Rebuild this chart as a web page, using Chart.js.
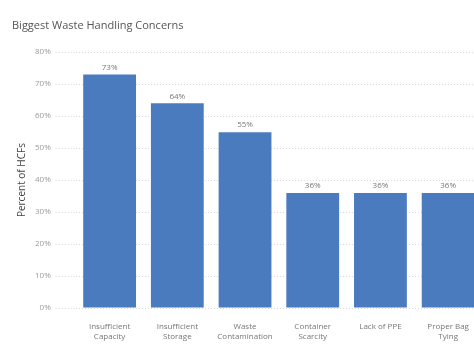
<!DOCTYPE html>
<html>
<head>
<meta charset="utf-8">
<script src="https://cdn.jsdelivr.net/npm/chart.js@4"></script>
<style>
  html, body { margin: 0; padding: 0; background: #fff; overflow: hidden; }
  #wrap { width: 482px; height: 362px; }
</style>
</head>
<body>
<div id="wrap"><canvas id="concernChart"></canvas></div>
<script>
const concerns = [
    ['Insufficient', 'Capacity'],
    ['Insufficient', 'Storage'],
    ['Waste', 'Contamination'],
    ['Container', 'Scarcity'],
    'Lack of PPE',
    ['Proper Bag', 'Tying']
];
const percentHCFs = [73, 64, 55, 36, 36, 36];
const yTicks = [0, 10, 20, 30, 40, 50, 60, 70, 80];

// draw the value above each bar
const barValueLabels = {
    id: 'barValueLabels',
    afterDatasetsDraw(chart) {
        const ctx = chart.ctx;
        const meta = chart.getDatasetMeta(0);
        ctx.save();
        ctx.font = '8px "Open Sans", sans-serif';
        ctx.fillStyle = '#777';
        ctx.textAlign = 'center';
        ctx.textBaseline = 'bottom';
        meta.data.forEach((bar, i) => {
            ctx.fillText(percentHCFs[i] + '%', bar.x, bar.y - 3);
        });
        ctx.restore();
    }
};

const ctx = document.getElementById('concernChart').getContext('2d');
new Chart(ctx, {
    type: 'bar',
    data: {
        labels: concerns,
        datasets: [{
            label: 'Percent of HCFs',
            data: percentHCFs,
            backgroundColor: '#4a7bbf',
            barPercentage: 0.78,
            categoryPercentage: 1
        }]
    },
    options: {
        responsive: true,
        maintainAspectRatio: false,
        animation: false,
        layout: { padding: { left: 12, right: 0, top: 0, bottom: 0 } },
        plugins: {
            legend: { display: false },
            tooltip: { enabled: false },
            title: {
                display: true,
                text: 'Biggest Waste Handling Concerns',
                align: 'start',
                color: '#555',
                font: { family: '"Open Sans", sans-serif', size: 11, weight: 'normal' },
                padding: { top: 19, bottom: 20 }
            }
        },
        scales: {
            x: {
                grid: { display: false },
                border: { display: false },
                ticks: {
                    color: '#777',
                    font: { family: '"Open Sans", sans-serif', size: 8 },
                    maxRotation: 0,
                    autoSkip: false,
                    padding: 6
                },
                title: {
                    display: true,
                    text: 'Concern',
                    color: '#555',
                    font: { family: '"Open Sans", sans-serif', size: 9 },
                    padding: { top: 0 }
                }
            },
            y: {
                min: 0,
                max: 80,
                afterBuildTicks(axis) {
                    axis.ticks = yTicks.map(v => ({ value: v }));
                },
                grid: {
                    color: '#d8d8d8',
                    tickColor: '#d8d8d8',
                    tickLength: 20,
                    tickBorderDash: [1, 2]
                },
                border: { display: false, dash: [1, 2] },
                ticks: {
                    color: '#999',
                    font: { family: '"Open Sans", sans-serif', size: 8 },
                    padding: 5,
                    callback: v => v + '%'
                },
                title: {
                    display: true,
                    text: 'Percent of HCFs',
                    color: '#444',
                    font: { family: '"Open Sans", sans-serif', size: 10 },
                    padding: { bottom: 2 }
                }
            }
        }
    },
    plugins: [barValueLabels]
});
</script>
</body>
</html>
